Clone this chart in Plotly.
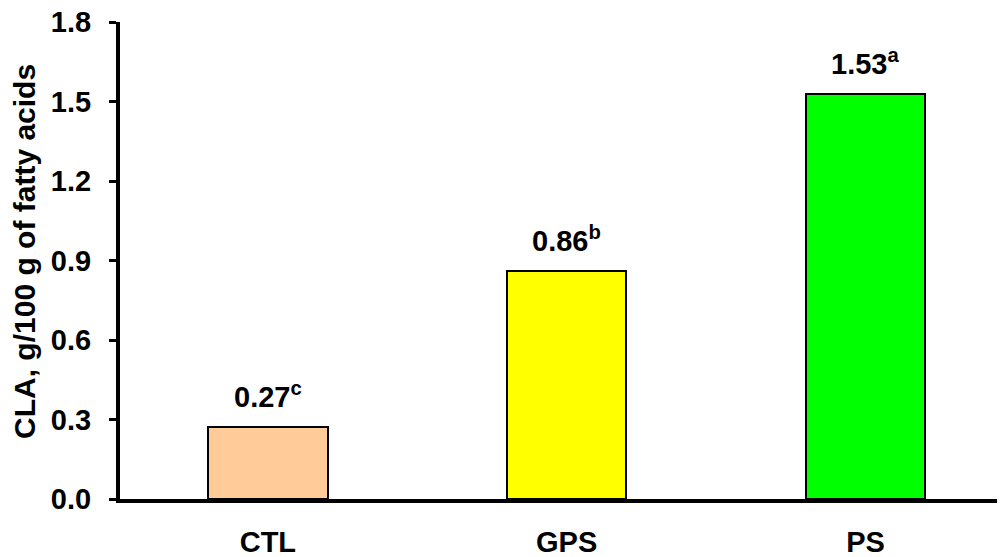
import plotly.graph_objects as go

categories = ["CTL", "GPS", "PS"]
values = [0.27, 0.86, 1.53]
letters = ["c", "b", "a"]
colors = ["#FFCC99", "#FFFF00", "#00FF00"]
y_ticks = [0.0, 0.3, 0.6, 0.9, 1.2, 1.5, 1.8]
y_tick_labels = ["0.0", "0.3", "0.6", "0.9", "1.2", "1.5", "1.8"]
y_title = "CLA, g/100 g of fatty acids"

font_family = "Arial, 'Liberation Sans', sans-serif"
FS = 29

fig = go.Figure()
fig.add_trace(go.Bar(
    x=categories, y=values, width=0.40,
    marker=dict(color=colors, line=dict(color="black", width=2)),
    showlegend=False,
))

for c, v, l in zip(categories, values, letters):
    fig.add_annotation(
        x=c, y=v, text=f"<b>{v:.2f}<sup>{l}</sup></b>",
        showarrow=False, yanchor="bottom", yshift=12,
        font=dict(family=font_family, size=FS, color="black"),
    )

fig.add_annotation(
    xref="paper", yref="paper", x=-0.1073, y=0.518,
    text=f"<b>{y_title}</b>", textangle=-90, showarrow=False,
    xanchor="center", yanchor="middle",
    font=dict(family=font_family, size=30, color="black"),
)

fig.update_layout(
    width=997, height=549,
    margin=dict(l=112, r=0, t=14, b=58),
    plot_bgcolor="white", paper_bgcolor="white",
    font=dict(family=font_family, color="black"),
    bargap=0,
)
fig.update_xaxes(
    range=[-0.495, 2.467], showline=True, linecolor="black", linewidth=4,
    ticks="", showgrid=False, zeroline=False, automargin=False,
    tickfont=dict(family=font_family, size=FS, color="black", weight="bold"),
    ticklabelstandoff=14,
)
fig.update_yaxes(
    range=[0, 1.8], tickvals=y_ticks, ticktext=y_tick_labels,
    showline=True, linecolor="black", linewidth=4,
    ticks="outside", ticklen=7, tickwidth=3, tickcolor="black",
    showgrid=False, zeroline=False, automargin=False,
    ticklabeloverflow="allow",
    tickfont=dict(family=font_family, size=FS, color="black", weight="bold"),
    ticklabelstandoff=12,
)

fig.write_html("out.html")
